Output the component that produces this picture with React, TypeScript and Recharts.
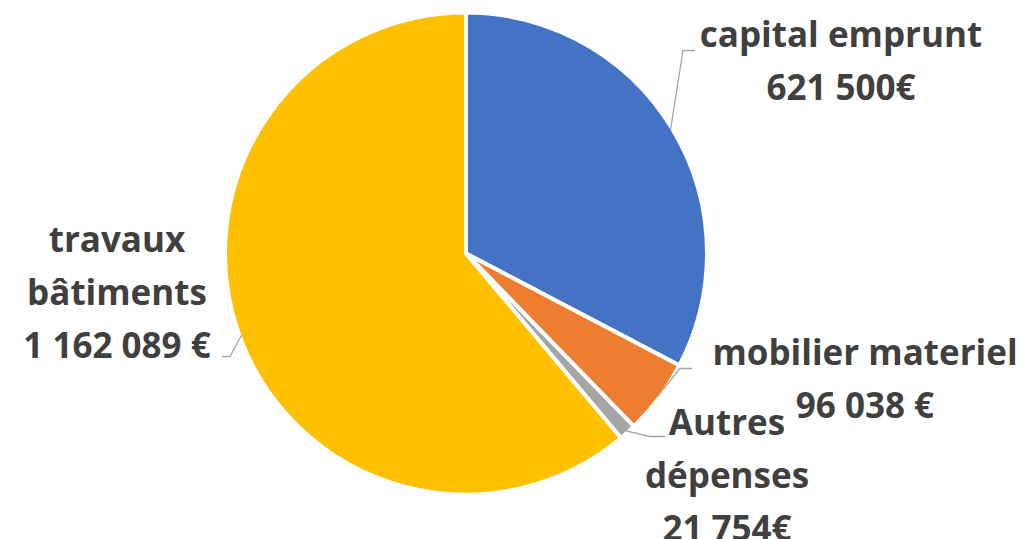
import React from "react";
import { PieChart, Pie, Cell } from "recharts";

const categories = ["capital emprunt", "mobilier materiel", "Autres\ndépenses", "travaux\nbâtiments"];
const values = [621500, 96038, 21754, 1162089];
const valueLabels = ["621 500€", "96 038 €", "21 754€", "1 162 089 €"];
const colors = ["#4472C4", "#ED7D31", "#A5A5A5", "#FFC000"];

// layout of labels relative to pie center: elbow point, line end, text center x, first baseline
const labelLayout = [
  { elbow: [217, -203], end: [229, -203], tx: 375, ty: -206.5 },
  { elbow: [214, 115], end: [226, 115], tx: 399, ty: 111.5 },
  { elbow: [184, 183], end: [199, 183], tx: 261, ty: 181.5 },
  { elbow: [-236, 103], end: [-244, 103], tx: -349, ty: -1.5 },
];
const LINE_GAP = 53;
const TEXT_COLOR = "#404040";
const FONT = "'Open Sans', sans-serif";
const FONT_SIZE = 35;

const data = categories.map((c, i) => ({ name: c, value: values[i], valueLabel: valueLabels[i] }));

const RAD = Math.PI / 180;

const renderLabel = (props: any) => {
  const { cx, cy, midAngle, outerRadius, index } = props;
  const lay = labelLayout[index];
  const r = outerRadius - 2;
  const sx = cx + r * Math.cos(-midAngle * RAD);
  const sy = cy + r * Math.sin(-midAngle * RAD);
  const ex = cx + lay.elbow[0];
  const ey = cy + lay.elbow[1];
  const fx = cx + lay.end[0];
  const fy = cy + lay.end[1];
  const lines = [...data[index].name.split("\n"), data[index].valueLabel];
  return (
    <g>
      <polyline
        points={`${sx},${sy} ${ex},${ey} ${fx},${fy}`}
        fill="none"
        stroke="#A6A6A6"
        strokeWidth={1.3}
      />
      <text
        x={cx + lay.tx}
        y={cy + lay.ty}
        textAnchor="middle"
        fill={TEXT_COLOR}
        fontFamily={FONT}
        fontWeight={700}
        fontSize={FONT_SIZE}
      >
        {lines.map((l, i) => (
          <tspan key={i} x={cx + lay.tx} y={cy + lay.ty + i * LINE_GAP}>
            {l}
          </tspan>
        ))}
      </text>
    </g>
  );
};

export default function App() {
  return (
    <div style={{ position: "absolute", left: 0, top: 0, width: 1025, height: 539, background: "#fff" }}>
      <PieChart width={1025} height={539} margin={{ top: 0, right: 0, bottom: 0, left: 0 }}>
        <Pie
          data={data}
          dataKey="value"
          nameKey="name"
          cx={466}
          cy={253.5}
          outerRadius={241}
          startAngle={90}
          endAngle={-270}
          stroke="#ffffff"
          strokeWidth={4}
          label={renderLabel}
          labelLine={false}
          isAnimationActive={false}
        >
          {data.map((d, i) => (
            <Cell key={i} fill={colors[i]} />
          ))}
        </Pie>
      </PieChart>
    </div>
  );
}
